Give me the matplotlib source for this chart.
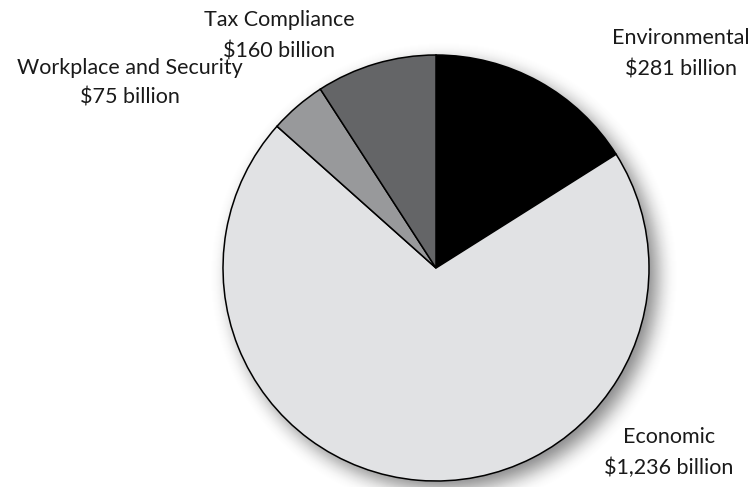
import numpy as np
import matplotlib.pyplot as plt
from matplotlib.patches import Circle
from math import erf

# cost categories, clockwise from 12 o'clock
categories = ["Environmental", "Economic", "Workplace and Security", "Tax Compliance"]
values = [281, 1236, 75, 160]
value_labels = ["$281 billion", "$1,236 billion", "$75 billion", "$160 billion"]
colors = ["#000000", "#e1e2e4", "#98999b", "#646567"]

W, H = 756, 487
cx, cy, r = 436, H - 268, 213

fig = plt.figure(figsize=(W / 100, H / 100), dpi=100)
ax = fig.add_axes([0, 0, 1, 1])

# soft drop shadow: stacked translucent discs, offset down-right
sx, sy, sigma, strength = cx + 8, cy - 8, 9.0, 0.6
done = 0.0
for rad in np.arange(r + 35, r - 20, -1.0):
    target = strength * 0.5 * (1 + erf((r - rad) / (sigma * np.sqrt(2))))
    if target > done:
        a = (target - done) / (1 - done)
        ax.add_patch(Circle((sx, sy), rad, facecolor=(0.25, 0.25, 0.27, a),
                            edgecolor="none", zorder=1))
        done = target

wedges, _ = ax.pie(values, colors=colors, startangle=90, counterclock=False,
                   center=(cx, cy), radius=r, frame=True,
                   wedgeprops=dict(edgecolor="black", linewidth=1.1))
for w in wedges:
    w.set_zorder(3)

ax.set_xlim(0, W)
ax.set_ylim(0, H)
ax.set_aspect("equal")
ax.axis("off")

font = dict(family="Lato", fontsize=15.5, color="#1a1a1a", ha="center", va="center")
label_pos = {
    "Environmental": (681, 38, 70),
    "Economic": (669, 437, 468),
    "Workplace and Security": (130, 68, 97),
    "Tax Compliance": (279, 20, 51),
}
for cat, lab in zip(categories, value_labels):
    x, y1, y2 = label_pos[cat]
    ax.text(x, H - y1, cat, zorder=4, **font)
    ax.text(x, H - y2, lab, zorder=4, **font)

fig.savefig("out.png", dpi=100)
